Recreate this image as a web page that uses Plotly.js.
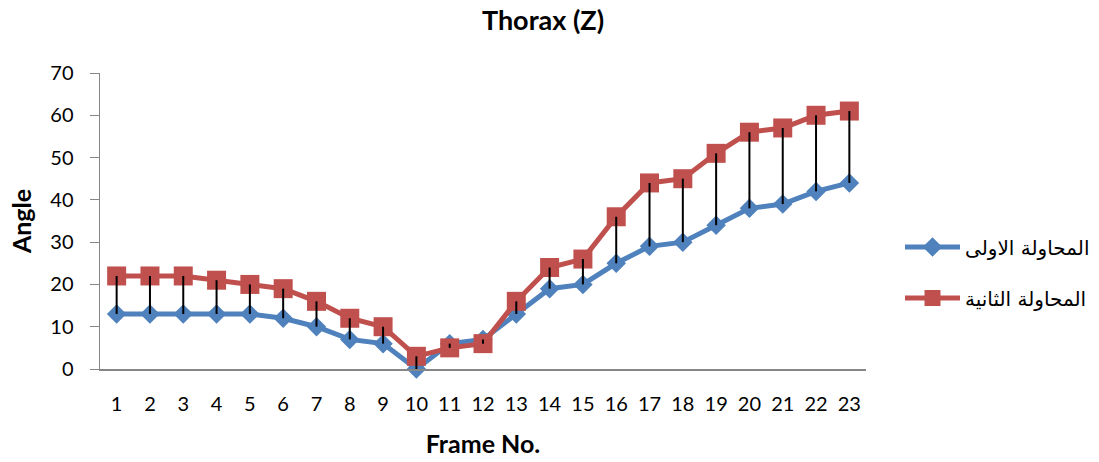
<!DOCTYPE html>
<html>
<head>
<meta charset="utf-8">
<script src="https://cdn.plot.ly/plotly-3.0.1.min.js"></script>
<style>html,body{margin:0;padding:0;background:#fff}#chart{width:1099px;height:462px}</style>
</head>
<body>
<div id="chart"></div>
<script>
var frames = [1,2,3,4,5,6,7,8,9,10,11,12,13,14,15,16,17,18,19,20,21,22,23];
var trial1 = [13,13,13,13,13,12,10,7,6,0,6,7,13,19,20,25,29,30,34,38,39,42,44];
var trial2 = [22,22,22,21,20,19,16,12,10,3,5,6,16,24,26,36,44,45,51,56,57,60,61];
var name1 = "المحاولة الاولى";
var name2 = "المحاولة الثانية";
var chartTitle = "Thorax (Z)";
var xTitle = "Frame No.";
var yTitle = "Angle";

var hx = [], hy = [];
for (var i = 0; i < frames.length; i++) {
  hx.push(frames[i], frames[i], null);
  hy.push(trial1[i], trial2[i], null);
}

var data = [
  {x: frames, y: trial1, name: name1, type: 'scatter', mode: 'lines+markers', legendgroup: 'a',
   line: {color: '#4F81BD', width: 5}, marker: {symbol: 'diamond', size: 15, color: '#4F81BD'}, cliponaxis: false},
  {x: frames, y: trial2, name: name2, type: 'scatter', mode: 'lines+markers', legendgroup: 'b',
   line: {color: '#C0504D', width: 5}, marker: {symbol: 'square', size: 19, color: '#C0504D'}, cliponaxis: false},
  {x: hx, y: hy, type: 'scatter', mode: 'lines', showlegend: false, hoverinfo: 'skip',
   line: {color: '#000000', width: 2}, cliponaxis: false}
];

var W = 1099, L = 100, R = 4;
var pw = W - L - R;

var layout = {
  width: W, height: 462,
  margin: {l: L, r: R, t: 73, b: 93},
  paper_bgcolor: '#ffffff', plot_bgcolor: '#ffffff',
  font: {family: 'Lato, "Open Sans", sans-serif', size: 20, color: '#000'},
  title: {text: '<b>' + chartTitle + '</b>', x: 543/1099, xanchor: 'center', y: 1 - 21/462, yanchor: 'middle', yref: 'container',
          font: {size: 27, color: '#000'}},
  showlegend: true,
  legend: {x: (900 - L)/pw, xanchor: 'left', y: 0.326, yanchor: 'middle', traceorder: 'grouped', tracegroupgap: 22,
           itemwidth: 55, font: {family: '"DejaVu Sans", sans-serif', size: 20, color: '#000'}, bgcolor: 'rgba(0,0,0,0)'},
  xaxis: {type: 'linear', domain: [0, 766/pw], range: [0.5, 23.5], tickmode: 'array', tickvals: frames, ticktext: frames.map(String),
          showgrid: false, zeroline: false, showline: true, linecolor: '#868686', linewidth: 1.5, ticks: '',
          tickfont: {size: 20}, ticklabelstandoff: 16, automargin: false,
          title: {text: '<b>' + xTitle + '</b>', font: {size: 25}, standoff: 22}},
  yaxis: {range: [0, 70], dtick: 10, showgrid: false, zeroline: false, showline: true, linecolor: '#868686', linewidth: 1.5,
          ticks: 'outside', ticklen: 9, tickcolor: '#868686', tickfont: {size: 20}, ticklabelstandoff: 12, automargin: false,
          title: {text: '<b>' + yTitle + '</b>', font: {size: 25}, standoff: 11}}
};

Plotly.newPlot('chart', data, layout, {displayModeBar: false, staticPlot: true});
</script>
</body>
</html>
